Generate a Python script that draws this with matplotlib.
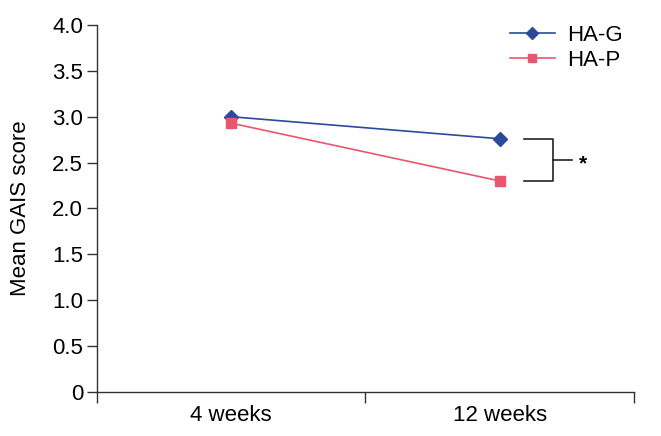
import matplotlib
matplotlib.use("Agg")
import matplotlib.pyplot as plt

categories = ["4 weeks", "12 weeks"]
ha_g = [3.00, 2.76]
ha_p = [2.93, 2.30]
y_ticks = [0, 0.5, 1.0, 1.5, 2.0, 2.5, 3.0, 3.5, 4.0]
y_tick_labels = ["0", "0.5", "1.0", "1.5", "2.0", "2.5", "3.0", "3.5", "4.0"]

plt.rcParams['font.family'] = ['Liberation Sans', 'DejaVu Sans']

fig = plt.figure(figsize=(6.61, 4.36), dpi=100)
ax = fig.add_axes([0.1467, 0.1009, 0.959 - 0.1467, 0.9427 - 0.1009])

FS = 16
x = list(range(len(categories)))
blue = "#2b4a9c"
pink = "#e8566f"
ax.plot(x, ha_g, color=blue, marker="D", markersize=7.5, lw=1.2, label="HA-G")
ax.plot(x, ha_p, color=pink, marker="s", markersize=7, lw=1.2, label="HA-P")

ax.set_xlim(-0.5, 1.5)
ax.set_ylim(0, 4.0)
ax.set_yticks(y_ticks)
ax.set_yticklabels(y_tick_labels, fontsize=FS)
ax.set_xticks([-0.5, 0.5, 1.5])
ax.set_xticklabels([])
ax.set_xticks(x, minor=True)
ax.set_xticklabels(categories, minor=True, fontsize=FS)
ax.tick_params(axis="x", which="minor", length=0, pad=9)
ax.tick_params(axis="x", which="major", length=8, width=1.0, color="#333333")
ax.tick_params(axis="y", length=7, width=1.0, color="#333333", pad=3)

for s in ["top", "right"]:
    ax.spines[s].set_visible(False)
for s in ["left", "bottom"]:
    ax.spines[s].set_color("#333333")
    ax.spines[s].set_linewidth(1.0)

ax.set_ylabel("Mean GAIS score", fontsize=FS, labelpad=15)

# significance bracket
x0, x1, x2 = 1.09, 1.20, 1.27
ax.plot([x0, x1, x1, x0], [ha_g[1], ha_g[1], ha_p[1], ha_p[1]], color="#222222", lw=1.2, clip_on=False)
ymid = (ha_g[1] + ha_p[1]) / 2
ax.plot([x1, x2], [ymid, ymid], color="#222222", lw=1.2, clip_on=False)
ax.text(1.31, ymid - 0.04, "*", fontsize=15, fontweight="bold", ha="center", va="center")

leg = ax.legend(loc="upper right", bbox_to_anchor=(1.016, 1.055), frameon=False, fontsize=FS,
                handlelength=2.0, handletextpad=0.55, labelspacing=0.2, markerscale=0.85)

fig.savefig("out.png", dpi=100)
